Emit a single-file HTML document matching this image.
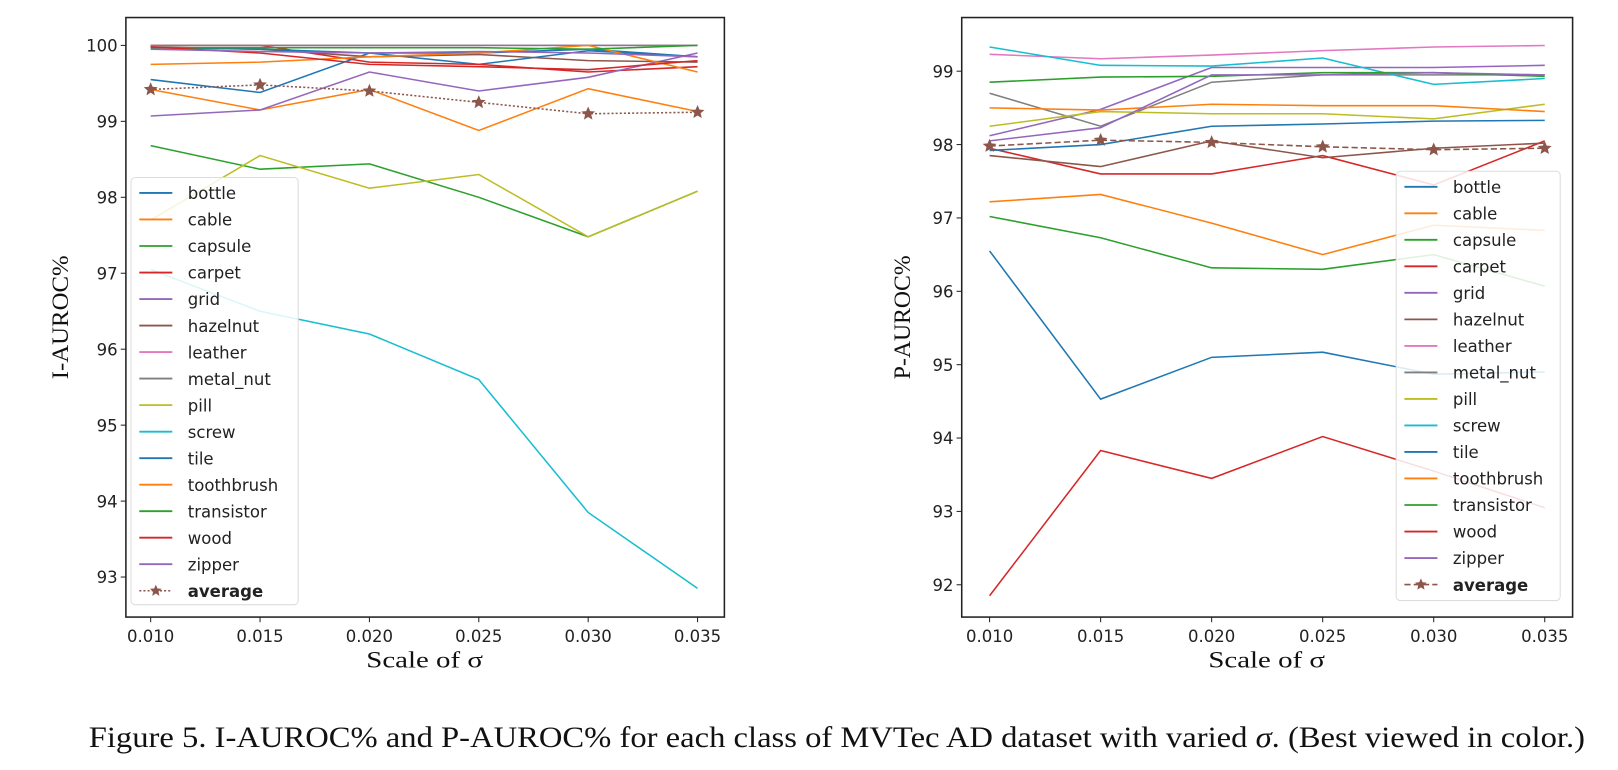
<!DOCTYPE html>
<html><head><meta charset="utf-8"><style>
html,body{margin:0;padding:0;background:#fff;}
svg{display:block;}
</style></head><body>
<svg id="root" width="1618" height="770" xmlns="http://www.w3.org/2000/svg">
<g id="fig" transform="scale(1.03189)">
<text x="86" y="724" textLength="1450" lengthAdjust="spacingAndGlyphs" font-family="Liberation Serif, serif" font-size="29" fill="#111">Figure 5. I-AUROC% and P-AUROC% for each class of MVTec AD dataset with varied <tspan font-style="italic">σ</tspan>. (Best viewed in color.)</text>
</g>
</svg>
<script>
const xValues=[0.010,0.015,0.020,0.025,0.030,0.035];
const xTickLabels=["0.010","0.015","0.020","0.025","0.030","0.035"];
const classNames=["bottle","cable","capsule","carpet","grid","hazelnut","leather","metal_nut","pill","screw","tile","toothbrush","transistor","wood","zipper"];
const colors=["#1f77b4","#ff7f0e","#2ca02c","#d62728","#9467bd","#8c564b","#e377c2","#7f7f7f","#bcbd22","#17becf","#1f77b4","#ff7f0e","#2ca02c","#d62728","#9467bd"];
const iBottle=[99.55,99.38,99.9,99.75,99.93,99.85];
const iCable=[99.42,99.15,99.42,98.88,99.43,99.13];
const iCapsule=[98.68,98.37,98.44,98.0,97.48,98.08];
const iCarpet=[100,100,99.78,99.75,99.65,99.72];
const iGrid=[99.07,99.15,99.65,99.4,99.58,99.9];
const iHazelnut=[99.98,99.95,99.85,99.88,99.8,99.78];
const iLeather=[100,100,100,100,100,100];
const iMetalNut=[100,100,100,100,100,100];
const iPill=[97.7,98.55,98.12,98.3,97.48,98.08];
const iScrew=[97.05,96.5,96.2,95.6,93.85,92.85];
const iTile=[99.97,99.95,99.9,99.9,99.95,99.85];
const iToothbrush=[99.75,99.78,99.85,99.9,100,99.65];
const iTransistor=[99.97,99.97,99.97,99.97,99.95,100];
const iWood=[99.98,99.9,99.75,99.72,99.68,99.8];
const iZipper=[99.95,99.92,99.9,99.92,99.9,99.85];
const iAverage=[99.42,99.48,99.4,99.25,99.1,99.12];
const pBottle=[96.55,94.53,95.1,95.17,94.87,94.9];
const pCable=[97.22,97.32,96.93,96.5,96.9,96.83];
const pCapsule=[97.02,96.73,96.32,96.3,96.5,96.07];
const pCarpet=[97.95,97.6,97.6,97.85,97.45,98.05];
const pGrid=[98.12,98.48,99.05,99.05,99.05,99.08];
const pHazelnut=[97.85,97.7,98.05,97.82,97.95,98.02];
const pLeather=[99.23,99.17,99.22,99.28,99.33,99.35];
const pMetalNut=[98.7,98.25,98.85,98.95,98.95,98.95];
const pPill=[98.25,98.45,98.42,98.42,98.35,98.55];
const pScrew=[99.33,99.08,99.07,99.18,98.82,98.9];
const pTile=[97.92,98.0,98.25,98.28,98.32,98.33];
const pToothbrush=[98.5,98.47,98.55,98.53,98.53,98.45];
const pTransistor=[98.85,98.92,98.93,98.98,98.98,98.93];
const pWood=[91.85,93.83,93.45,94.02,93.55,93.05];
const pZipper=[98.05,98.23,98.95,98.95,98.98,98.95];
const pAverage=[97.98,98.06,98.03,97.97,97.93,97.95];
const iTicks=[93,94,95,96,97,98,99,100];
const pTicks=[92,93,94,95,96,97,98,99];

const NS="http://www.w3.org/2000/svg";
const svg=document.getElementById('fig');
function mk(tag,attrs,parent){const e=document.createElementNS(NS,tag);for(const k in attrs)e.setAttribute(k,attrs[k]);(parent||svg).appendChild(e);return e;}
function star(cx,cy,r){let p=[];for(let i=0;i<10;i++){const a=-Math.PI/2+i*Math.PI/5;const rr=i%2?r*0.45:r;p.push((cx+rr*Math.cos(a)).toFixed(1)+","+(cy+rr*Math.sin(a)).toFixed(1));}return p.join(" ");}

function chart(cfg){
  const g=mk('g',{});
  
  
  const xs=v=>cfg.x0+(v-0.010)/0.025*(cfg.x1-cfg.x0);
  const ys=v=>cfg.yA+(cfg.vA-v)*cfg.k;
  cfg.series.forEach((s,i)=>{
    const pl=mk('polyline',{points:s.map((v,j)=>xs(xValues[j])+","+ys(v)).join(" "),fill:"none",stroke:colors[i],"stroke-width":1.5},g);
    
    
  });
  const av=mk('polyline',{points:cfg.avg.map((v,j)=>xs(xValues[j])+","+ys(v)).join(" "),fill:"none",stroke:"#8c564b","stroke-width":1.5,"stroke-dasharray":cfg.dash},g);
  
  
  cfg.avg.forEach((v,j)=>{
    const st=mk('polygon',{points:star(xs(xValues[j]),ys(v),7),fill:"#8c564b"},g);
    
    
  });
  const fr=mk('rect',{x:cfg.fl,y:cfg.ft,width:cfg.fr-cfg.fl,height:cfg.fb-cfg.ft,fill:"none",stroke:"#222","stroke-width":1.5},g);
  
  
  cfg.ticks.forEach(t=>{
    const y=ys(t);
    mk('line',{x1:cfg.fl-5,x2:cfg.fl,y1:y,y2:y,stroke:"#222"},g);
    const tx=mk('text',{x:cfg.fl-8,y:y+6,"text-anchor":"end","font-family":"DejaVu Sans, sans-serif","font-size":16,fill:"#222"},g);
    tx.textContent=t;
    
    
  });
  xValues.forEach((v,j)=>{
    const x=xs(v);
    mk('line',{x1:x,x2:x,y1:cfg.fb,y2:cfg.fb+5,stroke:"#222"},g);
    const tx=mk('text',{x:x,y:cfg.fb+24,"text-anchor":"middle","font-family":"DejaVu Sans, sans-serif","font-size":16,fill:"#222"},g);
    tx.textContent=xTickLabels[j];
    
    
  });
  const xl=mk('text',{x:(cfg.fl+cfg.fr)/2-57,y:647,textLength:113,lengthAdjust:"spacingAndGlyphs","font-family":"Liberation Serif, serif","font-size":23,fill:"#111"},g);
  xl.textContent="Scale of σ";
  
  
  const yl=mk('text',{x:-60,y:0,textLength:120,lengthAdjust:"spacingAndGlyphs","font-family":"Liberation Serif, serif","font-size":23,fill:"#111",transform:`translate(${cfg.ylx},${(cfg.ft+cfg.fb)/2}) rotate(-90)`},g);
  yl.textContent=cfg.ylabel;
  
  
  const lg=mk('g',{},g);
  
  
  mk('rect',{x:cfg.lx,y:cfg.ly,width:cfg.lw,height:cfg.lh,rx:4,fill:"rgba(255,255,255,0.85)",stroke:"#ddd"},lg);
  const labels=classNames.concat(["average"]);
  labels.forEach((n,i)=>{
    const y=cfg.ly+15+i*25.7;
    const e=mk('g',{},lg);
    
    
    if(i<15){mk('line',{x1:cfg.lx+8,x2:cfg.lx+40,y1:y,y2:y,stroke:colors[i],"stroke-width":1.8},e);}
    else{mk('line',{x1:cfg.lx+8,x2:cfg.lx+40,y1:y,y2:y,stroke:"#8c564b","stroke-width":1.5,"stroke-dasharray":cfg.dash},e);mk('polygon',{points:star(cfg.lx+24,y,6),fill:"#8c564b"},e);}
    const t=mk('text',{x:cfg.lx+55,y:y+6,"font-family":"DejaVu Sans, sans-serif","font-size":16,fill:"#222","font-weight":i==15?"bold":"normal"},e);
    t.textContent=n;
  });
}
chart({name:"i-auroc-chart",x0:146,x1:676,yA:44,vA:100,k:73.6,fl:122,fr:702,ft:17,fb:598,
  series:[iBottle,iCable,iCapsule,iCarpet,iGrid,iHazelnut,iLeather,iMetalNut,iPill,iScrew,iTile,iToothbrush,iTransistor,iWood,iZipper],
  avg:iAverage,dash:"2,2",ticks:iTicks,ylabel:"I-AUROC%",ylx:66,lx:127,ly:172,lw:162,lh:414});
chart({name:"p-auroc-chart",x0:959,x1:1497,yA:69,vA:99,k:71.1,fl:932,fr:1524,ft:17,fb:598,
  series:[pBottle,pCable,pCapsule,pCarpet,pGrid,pHazelnut,pLeather,pMetalNut,pPill,pScrew,pTile,pToothbrush,pTransistor,pWood,pZipper],
  avg:pAverage,dash:"6,3",ticks:pTicks,ylabel:"P-AUROC%",ylx:882,lx:1353,ly:166,lw:159,lh:416});
</script>
</body></html>
